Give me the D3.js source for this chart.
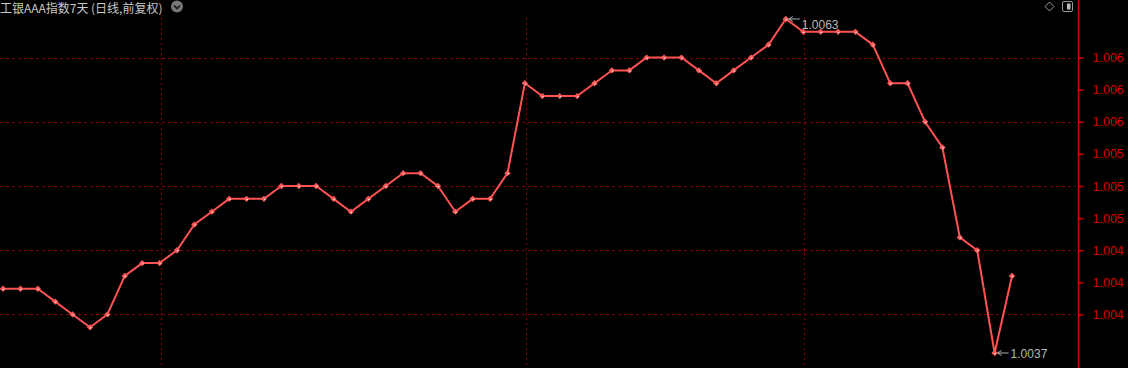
<!DOCTYPE html>
<html>
<head>
<meta charset="utf-8">
<script src="https://cdn.jsdelivr.net/npm/d3@7"></script>
<style>
  html, body { margin: 0; padding: 0; background: #000; }
  svg { display: block; }
</style>
</head>
<body>
<svg id="chart" width="1128" height="368"></svg>
<script>
// index value per trading day (daily close)
var values = [
  1.0042, 1.0042, 1.0042, 1.0041, 1.0040, 1.0039, 1.0040, 1.0043, 1.0044, 1.0044,
  1.0045, 1.0047, 1.0048, 1.0049, 1.0049, 1.0049, 1.0050, 1.0050, 1.0050, 1.0049,
  1.0048, 1.0049, 1.0050, 1.0051, 1.0051, 1.0050, 1.0048, 1.0049, 1.0049, 1.0051,
  1.0058, 1.0057, 1.0057, 1.0057, 1.0058, 1.0059, 1.0059, 1.0060, 1.0060, 1.0060,
  1.0059, 1.0058, 1.0059, 1.0060, 1.0061, 1.0063, 1.0062, 1.0062, 1.0062, 1.0062,
  1.0061, 1.0058, 1.0058, 1.0055, 1.0053, 1.0046, 1.0045, 1.0037, 1.0043
];
var tickValues = [1.0060, 1.00575, 1.0055, 1.00525, 1.0050, 1.00475, 1.0045, 1.00425, 1.0040];
var tickLabels = ["1.006", "1.006", "1.006", "1.005", "1.005", "1.005", "1.004", "1.004", "1.004"];
var gridValues = [1.0060, 1.0055, 1.0050, 1.0045, 1.0040];
var monthStarts = [9, 30, 46];   // vertical separators (index of day)
var title = "工银AAA指数7天 (日线,前复权)";

var svg = d3.select("#chart"),
    width = +svg.attr("width"),
    height = +svg.attr("height");

var axisX = 1078;

var x = d3.scaleLinear().domain([0, values.length - 1]).range([3, 1012]);
var y = d3.scaleLinear().domain([1.0037, 1.0063]).range([353, 19]);

// grid
var grid = svg.append("g").attr("class", "grid");
grid.selectAll("line.h")
  .data(gridValues)
  .enter().append("line")
  .attr("class", "h")
  .attr("x1", 0).attr("x2", axisX - 3)
  .attr("y1", function(d){ return Math.round(y(d)) + 0.5; })
  .attr("y2", function(d){ return Math.round(y(d)) + 0.5; })
  .attr("stroke", "#8c0000")
  .attr("stroke-dasharray", "3,3");

grid.selectAll("line.v")
  .data(monthStarts)
  .enter().append("line")
  .attr("class", "v")
  .attr("x1", function(d){ return Math.round(x(d)) + 1.5; })
  .attr("x2", function(d){ return Math.round(x(d)) + 1.5; })
  .attr("y1", 18).attr("y2", height)
  .attr("stroke", "#8c0000")
  .attr("stroke-dasharray", "2,3");

// right axis
var axis = d3.axisRight(y)
  .tickValues(tickValues)
  .tickSize(5)
  .tickFormat(function(d, i){ return tickLabels[i]; });

var ag = svg.append("g")
  .attr("transform", "translate(" + (axisX + 0.5) + ",0)")
  .call(axis);
ag.select(".domain").remove();
ag.selectAll("line").attr("stroke", "#d00000").attr("stroke-width", 1.5);
ag.selectAll("text")
  .attr("x", 14)
  .attr("fill", "#d80000")
  .attr("font-family", "'Liberation Sans', Arial, sans-serif")
  .attr("font-size", 12.5);
svg.append("line")
  .attr("x1", axisX + 0.5).attr("x2", axisX + 0.5)
  .attr("y1", 0).attr("y2", height)
  .attr("stroke", "#d00000").attr("stroke-width", 1.5);

// price line
var line = d3.line()
  .x(function(d, i){ return x(i); })
  .y(function(d){ return y(d); });

svg.append("path")
  .datum(values)
  .attr("d", line)
  .attr("fill", "none")
  .attr("stroke", "#ff5252")
  .attr("stroke-width", 2);

var marks = svg.append("g").attr("class", "marks")
  .selectAll("g")
  .data(values)
  .enter().append("g")
  .attr("transform", function(d, i){ return "translate(" + x(i) + "," + y(d) + ")"; });
marks.append("path")
  .attr("d", d3.symbol().type(d3.symbolSquare).size(20))
  .attr("transform", "rotate(45)")
  .attr("fill", "#ff5a5a");
marks.append("rect")
  .attr("x", 0).attr("y", 0).attr("width", 1.2).attr("height", 1.2)
  .attr("fill", "#ffffff");

// max / min labels
var maxI = d3.maxIndex(values), minI = d3.minIndex(values);
[maxI, minI].forEach(function(i){
  var px = x(i), py = y(values[i]);
  var g = svg.append("g").attr("transform", "translate(" + px + "," + py + ")");
  g.append("line").attr("x1", 3).attr("x2", 14).attr("y1", 0).attr("y2", 0)
    .attr("stroke", "#b0b0b0").attr("stroke-width", 1);
  g.append("path").attr("d", "M3,0 L7,-2.5 M3,0 L7,2.5")
    .attr("stroke", "#b0b0b0").attr("fill", "none");
  g.append("text")
    .attr("x", 16).attr("y", i === maxI ? 10 : 5)
    .attr("fill", "#b8b8b8")
    .attr("font-family", "'Liberation Sans', Arial, sans-serif")
    .attr("font-size", 12)
    .text(values[i].toFixed(4));
});

// title
svg.append("text")
  .attr("x", 0).attr("y", 13)
  .attr("fill", "#c8c8c8")
  .attr("font-family", "'Noto Sans CJK SC', sans-serif")
  .attr("font-size", 12)
  .text(title);
svg.append("circle").attr("cx", 177).attr("cy", 6.5).attr("r", 6).attr("fill", "#777");
svg.append("path").attr("d", "M174,5.5 L177,8.5 L180,5.5")
  .attr("stroke", "#111").attr("stroke-width", 1.5).attr("fill", "none");

// top-right icons
svg.append("path").attr("d", "M1049.5,2 L1054,6.5 L1049.5,11 L1045,6.5 Z")
  .attr("fill", "none").attr("stroke", "#999");
svg.append("rect").attr("x", 1062.5).attr("y", 1.5).attr("width", 10).attr("height", 10).attr("rx", 1.5)
  .attr("fill", "none").attr("stroke", "#999");
svg.append("rect").attr("x", 1067).attr("y", 3.5).attr("width", 3.5).attr("height", 6)
  .attr("fill", "#bbb");
</script>
</body>
</html>
